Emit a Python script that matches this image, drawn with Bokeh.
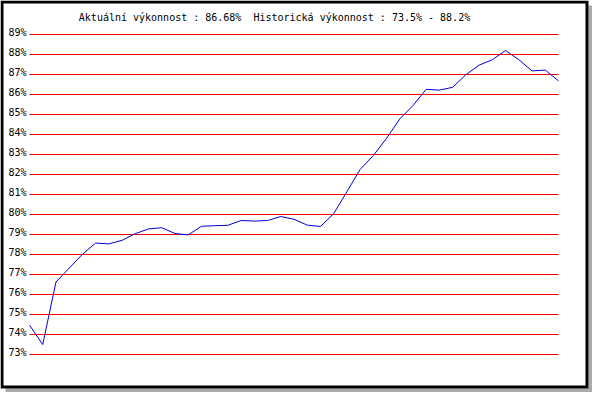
from bokeh.plotting import figure
from bokeh.models import Range1d
from bokeh.core.properties import value
from bokeh.embed import file_html
from bokeh.resources import INLINE

# ---- data ----
days = list(range(41))
performance = [74.47, 73.50, 76.62, 77.32, 78.01, 78.57, 78.53, 78.71, 79.04, 79.28,
               79.34, 79.05, 78.98, 79.41, 79.44, 79.46, 79.70, 79.67, 79.70, 79.90,
               79.76, 79.47, 79.40, 80.04, 81.14, 82.25, 82.95, 83.81, 84.78, 85.45,
               86.26, 86.22, 86.36, 86.99, 87.47, 87.74, 88.20, 87.74, 87.18, 87.22,
               86.68]
tick_values = list(range(73, 90))
tick_labels = [f"{v}%" for v in tick_values]
current_value = 86.68
hist_min = 73.5
hist_max = 88.2
title_text = (f"Aktuální výkonnost : {current_value:.2f}%\u00a0 "
              f"Historická výkonnost : {hist_min}% - {hist_max}%")

# ---- layout (pixels inside the canvas) ----
W, H = 592, 392
X0, X1 = 29.0, 558.0           # pixel x of first / last day
SX = (X1 - X0) / (len(days) - 1)
Y89, PPP = 34.0, 20.0          # pixel y of 89 %, pixels per percent


def xd(px):
    return days[0] + (px - X0) / SX


def yd(py):
    return 89 - (py - Y89) / PPP


p = figure(width=W, height=H, output_backend="svg", toolbar_location=None,
           x_axis_location=None, y_axis_location=None,
           x_range=Range1d(xd(0), xd(W)), y_range=Range1d(yd(H), yd(0)),
           min_border=0, min_border_left=0, min_border_right=0,
           min_border_top=0, min_border_bottom=0)
p.xgrid.visible = False
p.ygrid.visible = False
p.outline_line_color = None
p.background_fill_color = "white"
p.border_fill_color = "white"

# shadow
p.quad(left=[xd(588), xd(5)], right=[xd(592), xd(592)],
       top=[yd(5), yd(388)], bottom=[yd(392), yd(392)],
       fill_color="#aaaaaa", line_color=None)
# black frame
p.quad(left=[xd(0)], right=[xd(588)], top=[yd(0)], bottom=[yd(388)],
       fill_color="black", line_color=None)
p.quad(left=[xd(3)], right=[xd(585)], top=[yd(3)], bottom=[yd(385)],
       fill_color="white", line_color=None)

# grid lines
p.segment(x0=[days[0]] * len(tick_values), x1=[days[-1]] * len(tick_values),
          y0=tick_values, y1=tick_values, line_color="#ff0000", line_width=1)

# tick labels
p.text(x=[xd(26)] * len(tick_values), y=tick_values, text=tick_labels,
       text_align="right", text_baseline="alphabetic", y_offset=-2,
       text_font=value("DejaVu Sans Mono"), text_font_size="10px",
       text_color="black")

# data line
p.line(days, performance, line_color="#0000dd", line_width=1)

# title
p.text(x=[xd(274)], y=[yd(16.5)], text=[title_text],
       text_align="center", text_baseline="alphabetic",
       text_font=value("DejaVu Sans Mono"), text_font_size="10px",
       text_color="black")

open("out.html", "w").write(file_html(p, INLINE))
